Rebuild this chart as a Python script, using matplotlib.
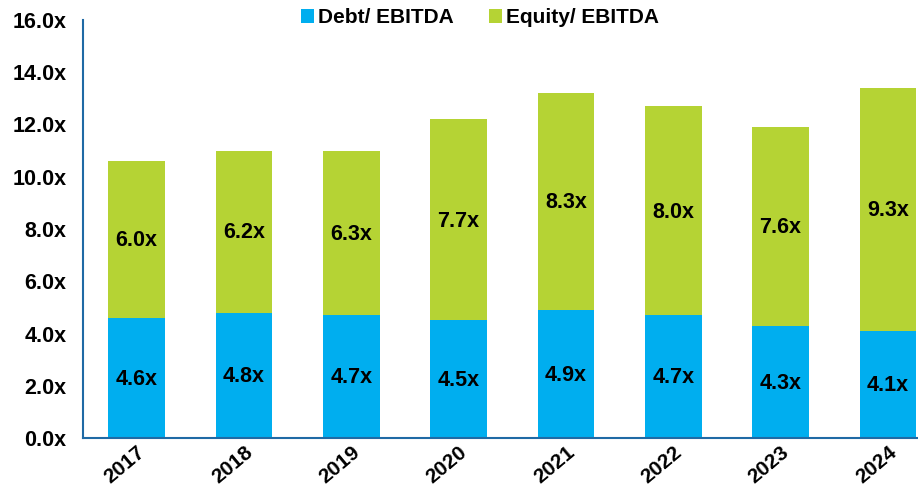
import matplotlib.pyplot as plt
import numpy as np

plt.rcParams['font.family'] = ['Liberation Sans', 'DejaVu Sans']
plt.rcParams['font.weight'] = 'bold'

years = ['2017', '2018', '2019', '2020', '2021', '2022', '2023', '2024']
debt = [4.6, 4.8, 4.7, 4.5, 4.9, 4.7, 4.3, 4.1]
equity = [6.0, 6.2, 6.3, 7.7, 8.3, 8.0, 7.6, 9.3]

blue = '#00AEEF'
green = '#B5D334'
axis_col = '#1F6AA5'
fs = 15.5

fig = plt.figure(figsize=(9.18, 4.9), dpi=100)
ax = fig.add_axes([83/918, 1-438/490, (918-83)/918, 418/490])

x = np.arange(len(years))
ax.bar(x, debt, width=0.53, color=blue, label='Debt/ EBITDA')
ax.bar(x, equity, width=0.53, bottom=debt, color=green, label='Equity/ EBITDA')

for i in range(len(years)):
    ax.text(x[i], debt[i]/2 - 0.05, f'{debt[i]:.1f}x', ha='center', va='center',
            fontsize=fs, fontweight='bold')
    ax.text(x[i], debt[i] + equity[i]/2 - 0.05, f'{equity[i]:.1f}x', ha='center', va='center',
            fontsize=fs, fontweight='bold')

ax.set_ylim(0, 16)
ax.set_xlim(-0.5, 7.28)
ax.set_yticks(np.arange(0, 17, 2))
ax.set_yticklabels([f'{v:.1f}x' for v in np.arange(0, 17, 2)], fontsize=fs, fontweight='bold')
ax.set_xticks(x)
ax.set_xticklabels(years, rotation=40, ha='right', rotation_mode='anchor',
                   fontsize=15, fontweight='bold')
ax.tick_params(length=0)
ax.tick_params(axis='y', pad=12)
ax.tick_params(axis='x', pad=3)

for s in ['top', 'right']:
    ax.spines[s].set_visible(False)
ax.spines['left'].set_color(axis_col)
ax.spines['bottom'].set_color(axis_col)
ax.spines['left'].set_linewidth(1.5)
ax.spines['bottom'].set_linewidth(1.5)

ax.legend(loc='upper center', bbox_to_anchor=(480/918, 1.0), bbox_transform=fig.transFigure,
          ncol=2, frameon=False, fontsize=15, handlelength=0.6, handleheight=0.7,
          handletextpad=0.2, columnspacing=1.7, borderaxespad=0.0)

fig.savefig('out.png', dpi=100)
